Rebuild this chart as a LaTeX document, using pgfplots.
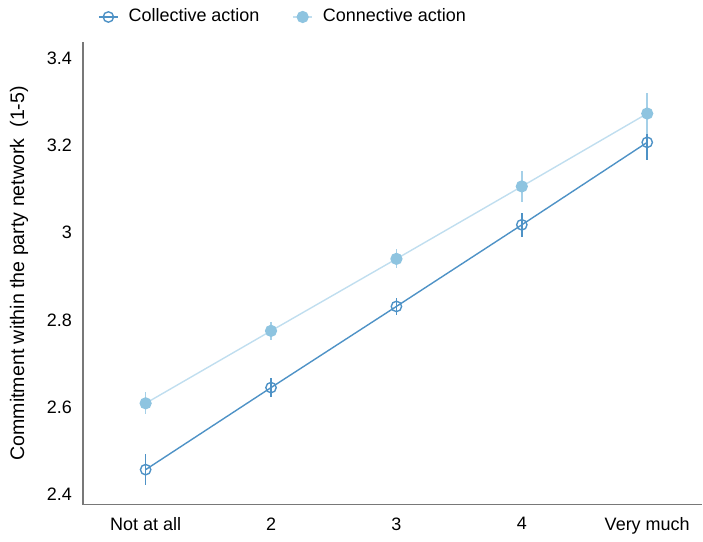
\documentclass[border=0pt]{standalone}
\usepackage{pgfplots}
\pgfplotsset{compat=1.18}
\usepackage{fontspec}
\setmainfont{Liberation Sans}
\definecolor{colA}{RGB}{78,146,198}
\definecolor{colBm}{RGB}{142,196,224}
\definecolor{colBl}{RGB}{192,222,239}
\definecolor{colBe}{RGB}{165,208,232}
\definecolor{axgray}{RGB}{120,120,120}
\pgfplotsset{shortleg/.style={legend image code/.code={\draw[mark repeat=2,mark phase=2,##1] plot coordinates {(0pt,0pt) (4.75pt,0pt) (9.5pt,0pt)};}}}
\begin{document}
\begin{tikzpicture}
\begin{axis}[
  scale only axis,
  width=310pt, height=231.5pt,
  xmin=-0.5, xmax=4.44,
  ymin=2.377, ymax=3.437,
  axis x line*=bottom, axis y line*=left,
  axis line style={axgray, line width=0.6pt},
  xtick={0,1,2,3,4},
  xticklabels={Not at all,2,3,4,Very much},
  ytick={2.4,2.6,2.8,3,3.2,3.4},
  yticklabels={2.4,2.6,2.8,3,3.2,3.4},
  major tick length=0pt,
  tick label style={font=\fontsize{9}{11}\selectfont, black},
  xticklabel style={yshift=-3pt},
  yticklabel style={xshift=-2pt},
  /pgf/number format/assume math mode=true,
  ylabel={\fontsize{9.8}{11}\selectfont Commitment within the party network\ \ (1-5)},
  ylabel style={at={(axis description cs:-0.103,0.5)}, anchor=center},
  legend columns=2,
  legend style={draw=none, at={(axis description cs:0.024,1.054)}, anchor=west,
    font=\fontsize{9}{11}\selectfont, inner sep=0pt,
    /tikz/every odd column/.append style={column sep=3pt},
    /tikz/every even column/.append style={column sep=14.5pt}},
  legend cell align=left,
  clip=false,
]
\addplot[colA, line width=0.7pt, mark=o, mark size=2.6pt,
  mark options={line width=0.7pt}, shortleg,
  error bars/.cd, y dir=both, y explicit, error mark=none,
  error bar style={draw=colA, line width=0.8pt}]
  coordinates {
  (0,2.457) +- (0,0.036)
  (1,2.645) +- (0,0.022)
  (2,2.831) +- (0,0.020)
  (3,3.018) +- (0,0.027)
  (4,3.207) +- (0,0.040)
  };
\addlegendentry{Collective action}
\addplot[colBl, line width=0.7pt, mark=*, mark size=2.7pt,
  mark options={draw=colBm, fill=colBm}, shortleg,
  error bars/.cd, y dir=both, y explicit, error mark=none,
  error bar style={draw=colBe, line width=0.8pt}]
  coordinates {
  (0,2.609) +- (0,0.025)
  (1,2.775) +- (0,0.020)
  (2,2.940) +- (0,0.022)
  (3,3.106) +- (0,0.035)
  (4,3.273) +- (0,0.047)
  };
\addlegendentry{Connective action}
\end{axis}
\useasboundingbox (-41.5pt,-18.5pt) rectangle (310pt,252.5pt);
\end{tikzpicture}
\end{document}
